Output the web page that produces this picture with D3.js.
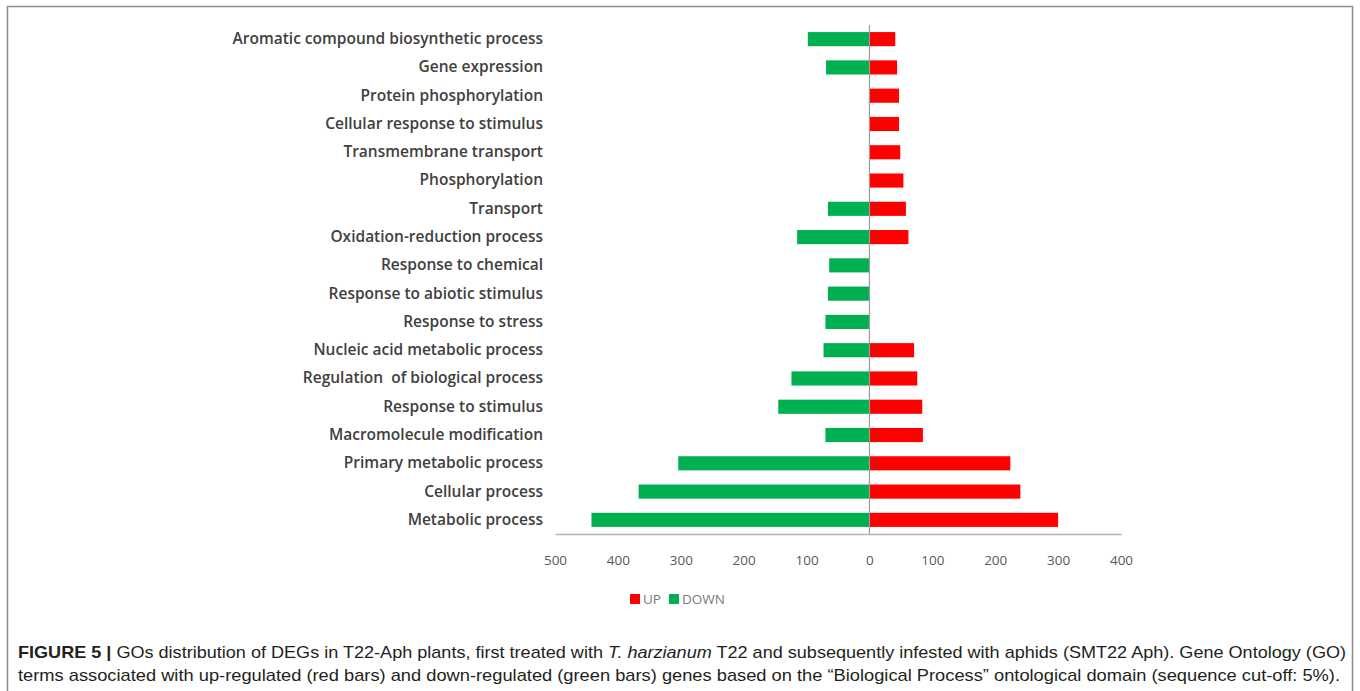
<!DOCTYPE html>
<html><head><meta charset="utf-8">
<script src="https://cdn.jsdelivr.net/npm/d3@7"></script>
<style>
html,body{margin:0;padding:0;background:#fff;}
svg{display:block;}
</style></head>
<body>
<svg id="c" width="1360" height="691"></svg>
<script>
const categories = [
  "Aromatic compound biosynthetic process",
  "Gene expression",
  "Protein phosphorylation",
  "Cellular response to stimulus",
  "Transmembrane transport",
  "Phosphorylation",
  "Transport",
  "Oxidation-reduction process",
  "Response to chemical",
  "Response to abiotic stimulus",
  "Response to stress",
  "Nucleic acid metabolic process",
  "Regulation  of biological process",
  "Response to stimulus",
  "Macromolecule modification",
  "Primary metabolic process",
  "Cellular process",
  "Metabolic process"
];
const upValues   = [41, 44, 47, 47, 49, 54, 58, 62, 0, 0, 0, 71, 76, 84, 85, 224, 240, 300];
const downValues = [98, 69, 0, 0, 0, 0, 66, 115, 64, 66, 70, 73, 124, 145, 70, 304, 367, 442];
const tickValues = [-500, -400, -300, -200, -100, 0, 100, 200, 300, 400];
const seriesNames = ["UP", "DOWN"];
const seriesColors = ["#ff0000", "#00b050"];

const svg = d3.select("#c");

// frame
svg.append("path")
  .attr("d", "M7.5,691 V6.5 H1352.5 V691")
  .attr("fill", "none").attr("stroke", "#8c8c8c").attr("stroke-width", 1.5);

const x = d3.scaleLinear().domain([-500, 400]).range([555, 1121]);
const y = d3.scaleBand().domain(categories).range([25, 534]).paddingInner(0.5).paddingOuter(0.25);

const g = svg.append("g");

// down bars (negative side)
g.selectAll("rect.down").data(categories).join("rect")
  .attr("class", "down")
  .attr("x", (d, i) => x(-downValues[i]))
  .attr("y", d => y(d))
  .attr("width", (d, i) => x(0) - x(-downValues[i]))
  .attr("height", y.bandwidth())
  .attr("fill", seriesColors[1]);

// up bars
g.selectAll("rect.up").data(categories).join("rect")
  .attr("class", "up")
  .attr("x", x(0))
  .attr("y", d => y(d))
  .attr("width", (d, i) => x(upValues[i]) - x(0))
  .attr("height", y.bandwidth())
  .attr("fill", seriesColors[0]);

// x axis
const xAxis = d3.axisBottom(x).tickValues(tickValues).tickSize(0).tickPadding(21)
  .tickFormat(d => Math.abs(d));
const ax = svg.append("g").attr("transform", "translate(0,534)").call(xAxis);
ax.select(".domain").attr("stroke", "#b4b4b4").attr("stroke-width", 1.5);
ax.selectAll("text").attr("fill", "#595959").attr("font-family", "'Open Sans', sans-serif")
  .attr("font-size", 13.5);

// zero line (category axis)
svg.append("line").attr("x1", x(0)).attr("x2", x(0)).attr("y1", 25).attr("y2", 534)
  .attr("stroke", "#9a9a9a").attr("stroke-width", 1.2);

// category labels
const yAxis = d3.axisLeft(y).tickSize(0).tickPadding(0);
const ay = svg.append("g").attr("transform", "translate(543,0)").call(yAxis);
ay.select(".domain").remove();
ay.selectAll("text").attr("fill", "#404040").attr("font-family", "'Open Sans', sans-serif")
  .attr("font-weight", 600).attr("font-size", 15.5).style("white-space", "pre");

// legend
const legendX = [630, 669];
const lg = svg.append("g");
seriesNames.forEach((n, i) => {
  lg.append("rect").attr("x", legendX[i]).attr("y", 594).attr("width", 10).attr("height", 10)
    .attr("fill", seriesColors[i]);
  lg.append("text").attr("x", legendX[i] + 13).attr("y", 604).text(n)
    .attr("fill", "#7a7a7a").attr("font-family", "'Open Sans', sans-serif").attr("font-size", 13.5);
});

// caption
const cap = svg.append("g").attr("font-family", "'Liberation Sans', Arial, sans-serif")
  .attr("font-size", 17).attr("fill", "#231f20");
const l1 = cap.append("text").attr("x", 18).attr("y", 658)
  .attr("textLength", 1328).attr("lengthAdjust", "spacingAndGlyphs");
l1.append("tspan").attr("font-weight", "bold").text("FIGURE 5 | ");
l1.append("tspan").text("GOs distribution of DEGs in T22-Aph plants, first treated with ");
l1.append("tspan").attr("font-style", "italic").text("T. harzianum");
l1.append("tspan").text(" T22 and subsequently infested with aphids (SMT22 Aph). Gene Ontology (GO)");
cap.append("text").attr("x", 18).attr("y", 681)
  .attr("textLength", 1322).attr("lengthAdjust", "spacingAndGlyphs")
  .text("terms associated with up-regulated (red bars) and down-regulated (green bars) genes based on the \u201cBiological Process\u201d ontological domain (sequence cut-off: 5%).");
</script>
</body></html>
